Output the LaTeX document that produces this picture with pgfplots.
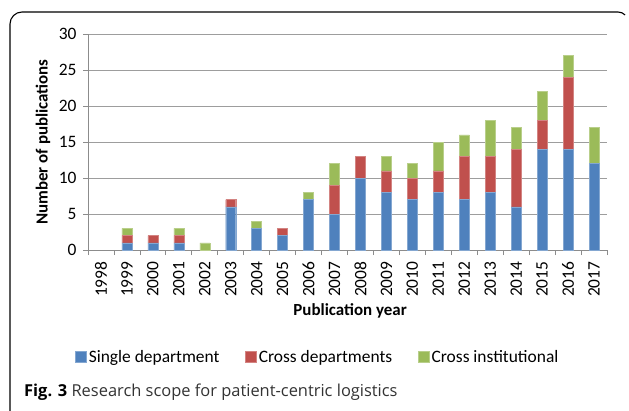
\documentclass[border=0pt]{standalone}
\usepackage{fontspec}
\setmainfont{Carlito}
\newfontfamily\capfont{Open Sans}
\usepackage{pgfplots}
\pgfplotsset{compat=1.18}
\definecolor{sblue}{HTML}{4F81BD}
\definecolor{sred}{HTML}{C0504D}
\definecolor{sgreen}{HTML}{9BBB59}
\definecolor{axgray}{HTML}{8C8C8C}
\begin{document}
\begin{tikzpicture}
\useasboundingbox (0bp,0bp) rectangle (629bp,-411bp);
\begin{axis}[
  at={(88bp,-250bp)}, anchor=south west,
  scale only axis, width=519bp, height=216bp,
  ybar stacked, bar width=10bp,
  xmin=-0.5, xmax=19.5, ymin=0, ymax=30,
  ytick={0,5,...,30},
  xtick={0,...,19},
  xticklabels={1998,1999,2000,2001,2002,2003,2004,2005,2006,2007,2008,2009,2010,2011,2012,2013,2014,2015,2016,2017},
  minor xtick={-0.5,0.5,...,19.5},
  major x tick style={draw=none},
  minor x tick style={draw=axgray, line width=0.8pt},
  y tick style={draw=axgray, line width=0.8pt},
  tick align=outside,
  major tick length=5bp, minor tick length=5bp,
  axis x line*=bottom, axis y line*=left,
  axis line style={draw=axgray, line width=0.9pt, -},
  ymajorgrids, grid style={draw=axgray!85, line width=0.9pt},
  /pgf/number format/assume math mode=true,
  ticklabel style={font=\fontsize{17.5}{18}\selectfont},
  xticklabel style={rotate=90, anchor=east, xshift=-3bp},
  yticklabel style={xshift=-3bp},
  xlabel={\bfseries Publication year},
  ylabel={\bfseries Number of publications},
  label style={font=\fontsize{17}{18}\selectfont},
  xlabel style={at={(axis description cs:0.505,-0.282)}, anchor=center},
  ylabel style={at={(axis description cs:-0.0867,0.5)}, anchor=center, rotate=0},
  legend style={at={(0.443,-0.495)}, anchor=center, draw=none, fill=none,
    legend columns=3, font=\fontsize{17.5}{18}\selectfont,
    /tikz/every even column/.append style={column sep=24bp}},
  legend image code/.code={\fill[#1] (0bp,-5.5bp) rectangle (11bp,5.5bp);},
  legend cell align=left,
]
\addplot[fill=sblue, draw=sblue!70!white] coordinates {(0,0) (1,1) (2,1) (3,1) (4,0) (5,6) (6,3) (7,2) (8,7) (9,5) (10,10) (11,8) (12,7) (13,8) (14,7) (15,8) (16,6) (17,14) (18,14) (19,12)};
\addplot[fill=sred, draw=sred!70!white] coordinates {(0,0) (1,1) (2,1) (3,1) (4,0) (5,1) (6,0) (7,1) (8,0) (9,4) (10,3) (11,3) (12,3) (13,3) (14,6) (15,5) (16,8) (17,4) (18,10) (19,0)};
\addplot[fill=sgreen, draw=sgreen!70!white] coordinates {(0,0) (1,1) (2,0) (3,1) (4,1) (5,0) (6,1) (7,0) (8,1) (9,3) (10,0) (11,2) (12,2) (13,4) (14,3) (15,5) (16,3) (17,4) (18,3) (19,5)};
\legend{Single department, Cross departments, Cross institutional}
\end{axis}
\draw[line width=1.1pt, black] (10bp,-411bp) -- (10bp,-24bp) arc[start angle=180, end angle=90, radius=12bp] -- (618bp,-12bp) arc[start angle=90, end angle=45, radius=10bp];
\node[anchor=west, inner sep=0pt, font=\capfont\fontsize{16.5}{17}\selectfont] at (24bp,-392bp) {\textbf{Fig. 3} \color{black!80}Research scope for patient-centric logistics};
\end{tikzpicture}
\end{document}
